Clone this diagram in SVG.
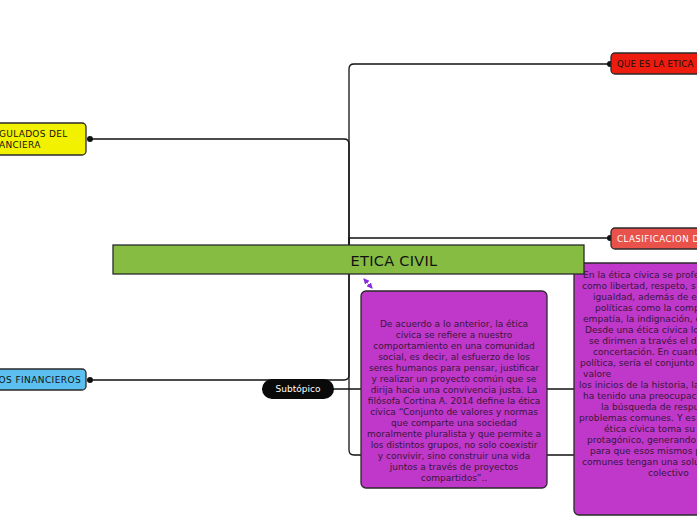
<svg xmlns="http://www.w3.org/2000/svg" width="697" height="520" viewBox="0 0 697 520">
<style>
.ln{fill:none;stroke:#111;stroke-width:1.3}
.dot{fill:#111}
.box{stroke:#2a2a2a;stroke-width:1.3}
.t{font-family:"DejaVu Sans",Verdana,sans-serif;font-size:9px;fill:#111}
.p{font-family:"DejaVu Sans",Verdana,sans-serif;font-size:9px;fill:#3a163d}
.q{font-family:"DejaVu Sans",Verdana,sans-serif;font-size:9.1px;fill:#3a163d}
</style>
<defs>
<marker id="ah" markerWidth="6" markerHeight="6" refX="5" refY="3" orient="auto-start-reverse" markerUnits="userSpaceOnUse">
<path d="M0,0 L6,3 L0,6 Z" fill="#8a2be2"/>
</marker>
</defs>
<rect width="697" height="520" fill="#ffffff"/>
<g id="connectors">
<path class="ln" d="M349,250 V69 Q349,64 354,64 H610"/>
<path class="ln" d="M90,139 H344 Q349,139 349,144 V250"/>
<path class="ln" d="M349,250 V238 H610"/>
<path class="ln" d="M90,380 H344 Q349,380 349,375 V270"/>
<path class="ln" d="M349,270 V450 Q349,455 354,455 H575"/>
<path class="ln" d="M262,389 H575"/>
<circle class="dot" cx="90" cy="139" r="3"/>
<circle class="dot" cx="610" cy="64" r="3"/>
<circle class="dot" cx="610" cy="238" r="3"/>
<circle class="dot" cx="90" cy="380" r="3"/>
<path d="M364,279 L372,288" stroke="#8a2be2" stroke-width="1.3" stroke-dasharray="2,1.5" fill="none" marker-start="url(#ah)" marker-end="url(#ah)"/>
</g>
<g id="n-yellow">
<rect class="box" x="-10" y="123" width="96" height="32" rx="4" fill="#f2f200"/>
<text class="t" x="-1" y="137" style="letter-spacing:0.3px">GULADOS DEL</text>
<text class="t" x="-1" y="148" style="letter-spacing:0.3px">ANCIERA</text>
</g>
<g id="n-blue">
<rect class="box" x="-10" y="369" width="96" height="21" rx="4" fill="#5bc0ef"/>
<text class="t" x="81" y="383" text-anchor="end" style="letter-spacing:0.4px">OS FINANCIEROS</text>
</g>
<g id="n-red">
<rect class="box" x="611" y="53" width="100" height="21" rx="4" fill="#ee1c0f"/>
<text class="t" x="617" y="67" style="font-size:8.6px;letter-spacing:0.2px">QUE ES LA ETICA</text>
</g>
<g id="n-salmon">
<rect class="box" x="611" y="228" width="100" height="21" rx="4" fill="#e8524a"/>
<text class="t" x="617" y="242" style="fill:#fff;font-size:8.6px;letter-spacing:0.5px">CLASIFICACION D</text>
</g>
<g id="n-sub">
<rect x="262" y="379" width="72" height="20" rx="10" fill="#0a0a0a"/>
<text class="t" x="298" y="392" text-anchor="middle" style="fill:#fff">Subtópico</text>
</g>
<g id="n-purple1">
<rect class="box" x="361" y="291" width="186" height="197" rx="5" fill="#bf38c9"/>
<g class="p" text-anchor="middle">
<text x="454" y="327">De acuerdo a lo anterior, la ética</text>
<text x="454" y="338">cívica se refiere a nuestro</text>
<text x="454" y="349">comportamiento en una comunidad</text>
<text x="454" y="360">social, es decir, al esfuerzo de los</text>
<text x="454" y="371">seres humanos para pensar, justificar</text>
<text x="454" y="382">y realizar un proyecto común que se</text>
<text x="454" y="393">dirija hacia una convivencia justa. La</text>
<text x="454" y="404">filósofa Cortina A. 2014 define la ética</text>
<text x="454" y="415">cívica “Conjunto de valores y normas</text>
<text x="454" y="426">que comparte una sociedad</text>
<text x="454" y="437">moralmente pluralista y que permite a</text>
<text x="454" y="448">los distintos grupos, no solo coexistir</text>
<text x="454" y="459">y convivir, sino construir una vida</text>
<text x="454" y="470">juntos a través de proyectos</text>
<text x="454" y="481">compartidos”..</text>
</g>
</g>
<g id="n-purple2">
<rect class="box" x="574" y="263" width="140" height="252" rx="5" fill="#bf38c9"/>
<g class="q">
<text x="583" y="278">En la ética cívica se profe</text>
<text x="582" y="289">como libertad, respeto, s</text>
<text x="593" y="300">igualdad, además de er</text>
<text x="595" y="311">políticas como la comp</text>
<text x="583" y="322">empatía, la indignación, e</text>
<text x="585" y="333">Desde una ética cívica lo</text>
<text x="589" y="344">se dirimen a través el di</text>
<text x="593" y="355">concertación. En cuant</text>
<text x="580" y="366">política, sería el conjunto</text>
<text x="583" y="377">valore</text>
<text x="579" y="388">los inicios de la historia, la</text>
<text x="583" y="399">ha tenido una preocupaci</text>
<text x="601" y="410">la búsqueda de respu</text>
<text x="579" y="421">problemas comunes. Y es</text>
<text x="604" y="432">ética cívica toma su</text>
<text x="587" y="443">protagónico, generando</text>
<text x="590" y="454">para que esos mismos p</text>
<text x="582" y="465">comunes tengan una solu</text>
<text x="648" y="476">colectivo</text>
</g>
</g>
<g id="n-main">
<rect class="box" x="113" y="245" width="471" height="29" fill="#86bc42"/>
<text x="394" y="266" text-anchor="middle" style="font-family:'DejaVu Sans',Verdana,sans-serif;font-size:14.5px;fill:#111;letter-spacing:0.3px">ETICA CIVIL</text>
</g>
</svg>
